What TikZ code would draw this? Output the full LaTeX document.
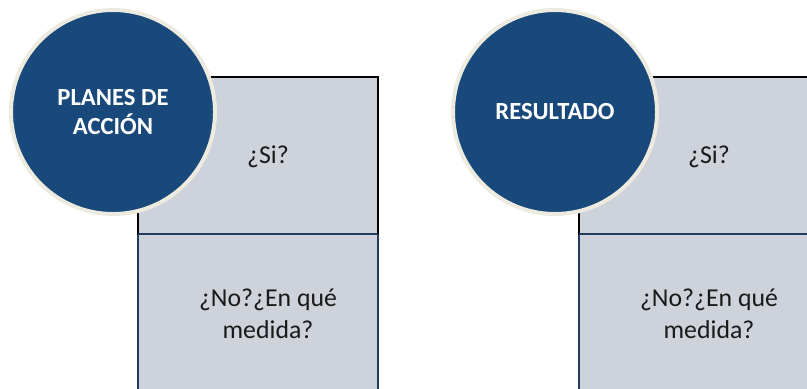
\documentclass[tikz,border=0pt]{standalone}
\usepackage{fontspec}
\setmainfont{Carlito}
\usepackage{tikz}
\definecolor{bubblefill}{RGB}{25,72,122}
\definecolor{bubbleedge}{RGB}{237,235,224}
\definecolor{boxfill}{RGB}{206,211,219}
\definecolor{boxedge}{RGB}{31,59,94}
\tikzset{
  bubble/.style={circle,fill=bubblefill,draw=bubbleedge,line width=3.4pt,
    minimum size=6.12cm,inner sep=0pt,text=white,font=\fontsize{21}{25}\selectfont\bfseries,align=center},
  boxtext/.style={font=\fontsize{22}{27}\selectfont,align=center,text=black!90}
}

\begin{document}
\begin{tikzpicture}[x=0.03cm,y=-0.03cm]
  \clip (0,0) rectangle (807,388);
  \fill[white] (0,0) rectangle (807,388);

  %left panel
  \draw[fill=boxfill,draw=boxedge,line width=1.8pt] (138,234) rectangle (378,400);
  \draw[fill=boxfill,draw=black,line width=1.8pt] (138,77) rectangle (378,234);
  \draw[boxedge,line width=1.8pt] (138,234) -- (378,234);
  \node[boxtext] (plansi) at (268,157) {¿Si?};
  \node[boxtext] (planno) at (268,314) {¿No?¿En qué\\medida?};
  \node[bubble] (plan) at (113,112) {PLANES DE\\ACCIÓN};

  %right panel
  \draw[fill=boxfill,draw=boxedge,line width=1.8pt] (579,234) rectangle (820,400);
  \draw[fill=boxfill,draw=black,line width=1.8pt] (579,77) rectangle (820,234);
  \draw[boxedge,line width=1.8pt] (579,234) -- (820,234);
  \node[boxtext] (ressi) at (709,157) {¿Si?};
  \node[boxtext] (resno) at (709,314) {¿No?¿En qué\\medida?};
  \node[bubble] (res) at (555,112) {RESULTADO};
\end{tikzpicture}
\end{document}
